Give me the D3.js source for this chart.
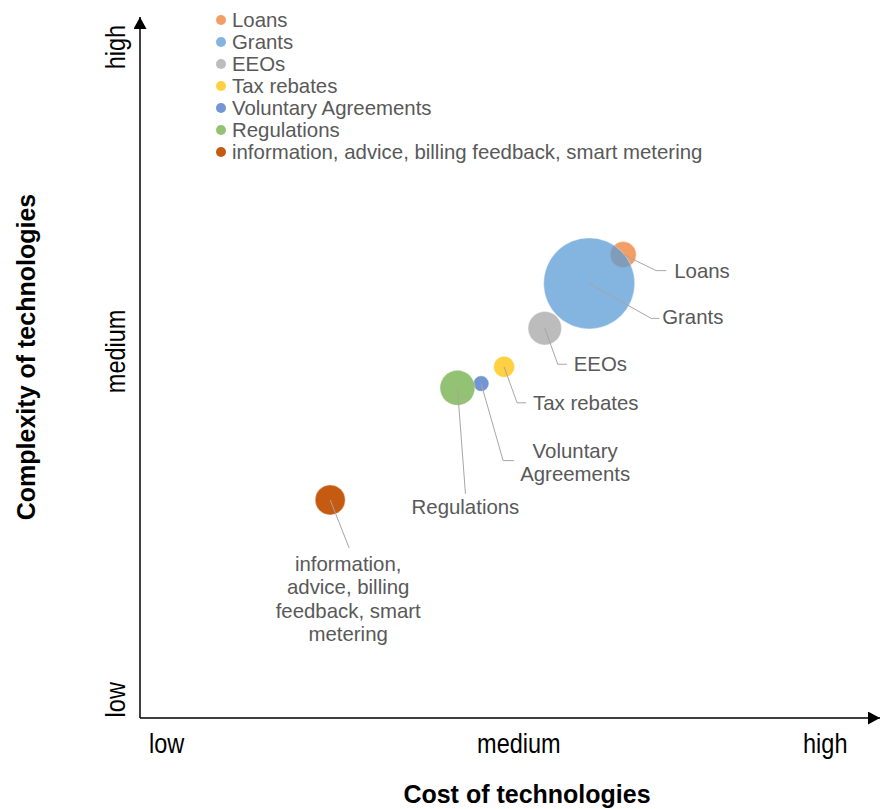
<!DOCTYPE html>
<html>
<head>
<meta charset="utf-8">
<script src="https://cdn.jsdelivr.net/npm/d3@7"></script>
<style>
  body { margin: 0; background: #fff; }
  svg { display: block; }
  .lbl { font-family: "Liberation Sans", Arial, sans-serif; font-size: 20.4px; fill: #595959; }
  .tick-lbl { font-family: "Liberation Sans", Arial, sans-serif; font-size: 28px; fill: #000; }
  .axis-title { font-family: "Liberation Sans", Arial, sans-serif; font-size: 25px; font-weight: bold; fill: #000; }
</style>
</head>
<body>
<div class="chart"></div>
<script>
// series, in legend order
const names = ['Loans', 'Grants', 'EEOs', 'Tax rebates', 'Voluntary Agreements', 'Regulations',
  'information, advice, billing feedback, smart metering'];
const cost = [65.3, 60.7, 54.7, 49.2, 46.1, 42.9, 25.7];        // x, 0..100
const complexity = [66.1, 62.0, 55.6, 50.1, 47.7, 47.1, 31.1];   // y, 0..100
const size = [8.2, 100, 13.5, 5.3, 2.9, 14.8, 10.9];             // bubble size
const colors = ['#ED7D31', '#5B9BD5', '#A5A5A5', '#FFC000', '#4472C4', '#70AD47', '#C55A11'];
const opacity = [0.75, 0.75, 0.75, 0.75, 0.75, 0.75, 1];

const levelNames = ['low', 'medium', 'high'];
const xLevels = [3.6, 51.2, 92.6];
const yLevels = [2.6, 52.3, 95.7];

// data label layout (offsets from bubble centre, px)
const labelLines = [['Loans'], ['Grants'], ['EEOs'], ['Tax rebates'], ['Voluntary', 'Agreements'], ['Regulations'],
  ['information,', 'advice, billing', 'feedback, smart', 'metering']];
const labelLayout = [
  { path: [[33, 16], [43, 16]], tx: 51, ty: 17, anchor: 'start' },
  { path: [[62, 35], [70, 35]], tx: 73, ty: 35, anchor: 'start' },
  { path: [[13, 36], [22, 36]], tx: 29, ty: 37, anchor: 'start' },
  { path: [[13, 36], [22, 36]], tx: 29, ty: 37, anchor: 'start' },
  { path: [[22, 77], [33, 77]], tx: 94, ty: 68, anchor: 'middle' },
  { path: [[8, 106]], tx: 8, ty: 120, anchor: 'middle' },
  { path: [[19, 48]], tx: 18, ty: 65, anchor: 'middle' }
];

const w = 880;
const h = 809;
const left = 140;
const bottom = 718;

const svg = d3.select('.chart').append('svg').attr('width', w).attr('height', h);

const xScale = d3.scaleLinear().domain([0, 100]).range([left, 880]);
const yScale = d3.scaleLinear().domain([0, 100]).range([bottom, 17]);
const rScale = d3.scaleSqrt().domain([0, 100]).range([0, 45.5]);

// arrow heads
svg.append('defs').append('marker').attr('id', 'arrow').attr('viewBox', '0 0 12 13')
  .attr('refX', 12).attr('refY', 6.5).attr('markerWidth', 12).attr('markerHeight', 13)
  .attr('markerUnits', 'userSpaceOnUse').attr('orient', 'auto')
  .append('path').attr('d', 'M0,0 L12,6.5 L0,13 Z').attr('fill', '#000');

// axes
svg.append('line').attr('x1', xScale(0)).attr('y1', yScale(0)).attr('x2', xScale(0)).attr('y2', yScale(100))
  .attr('stroke', '#000').attr('stroke-width', 1.5).attr('marker-end', 'url(#arrow)');
svg.append('line').attr('x1', xScale(0)).attr('y1', yScale(0)).attr('x2', xScale(100)).attr('y2', yScale(0))
  .attr('stroke', '#000').attr('stroke-width', 1.5).attr('marker-end', 'url(#arrow)');

svg.selectAll('.xlvl').data(levelNames).enter().append('text').attr('class', 'tick-lbl')
  .attr('transform', (d, i) => `translate(${xScale(xLevels[i])}, 753) scale(0.84, 1)`)
  .attr('text-anchor', 'middle').text(d => d);

svg.selectAll('.ylvl').data(levelNames).enter().append('text').attr('class', 'tick-lbl')
  .attr('transform', (d, i) => `translate(125, ${yScale(yLevels[i])}) rotate(-90) scale(0.84, 1)`)
  .attr('text-anchor', 'middle').text(d => d);

svg.append('text').attr('class', 'axis-title').attr('x', 527).attr('y', 803)
  .attr('text-anchor', 'middle').text('Cost of technologies');
svg.append('text').attr('class', 'axis-title').attr('transform', 'translate(35, 357) rotate(-90)')
  .attr('text-anchor', 'middle').text('Complexity of technologies');

// bubbles
svg.selectAll('circle.bubble').data(names).enter().append('circle').attr('class', 'bubble')
  .attr('cx', (d, i) => xScale(cost[i])).attr('cy', (d, i) => yScale(complexity[i]))
  .attr('r', (d, i) => rScale(size[i]))
  .attr('fill', (d, i) => colors[i]).attr('fill-opacity', (d, i) => opacity[i])
  .attr('stroke', '#fff').attr('stroke-opacity', 0.5).attr('stroke-width', 0.75);

// leader lines and labels
const lg = svg.append('g');
names.forEach((n, i) => {
  const cx = xScale(cost[i]);
  const cy = yScale(complexity[i]);
  const L = labelLayout[i];
  const pts = [[cx, cy]].concat(L.path.map(p => [cx + p[0], cy + p[1]]));
  lg.append('path').attr('d', d3.line()(pts)).attr('fill', 'none')
    .attr('stroke', '#A6A6A6').attr('stroke-width', 1);
  const t = lg.append('text').attr('class', 'lbl').attr('text-anchor', L.anchor);
  labelLines[i].forEach((s, k) => {
    t.append('tspan').attr('x', cx + L.tx)
      .attr('y', cy + L.ty + k * 23.3 + 6).text(s);
  });
});

// legend
const legend = svg.append('g').attr('transform', 'translate(221, 20)');
const rows = legend.selectAll('g').data(names).enter().append('g')
  .attr('transform', (d, i) => `translate(0, ${i * 22})`);
rows.append('circle').attr('r', 5).attr('fill', (d, i) => colors[i]).attr('fill-opacity', (d, i) => opacity[i]);
rows.append('text').attr('class', 'lbl').attr('x', 11).attr('y', 7).text(d => d);
</script>
</body>
</html>
